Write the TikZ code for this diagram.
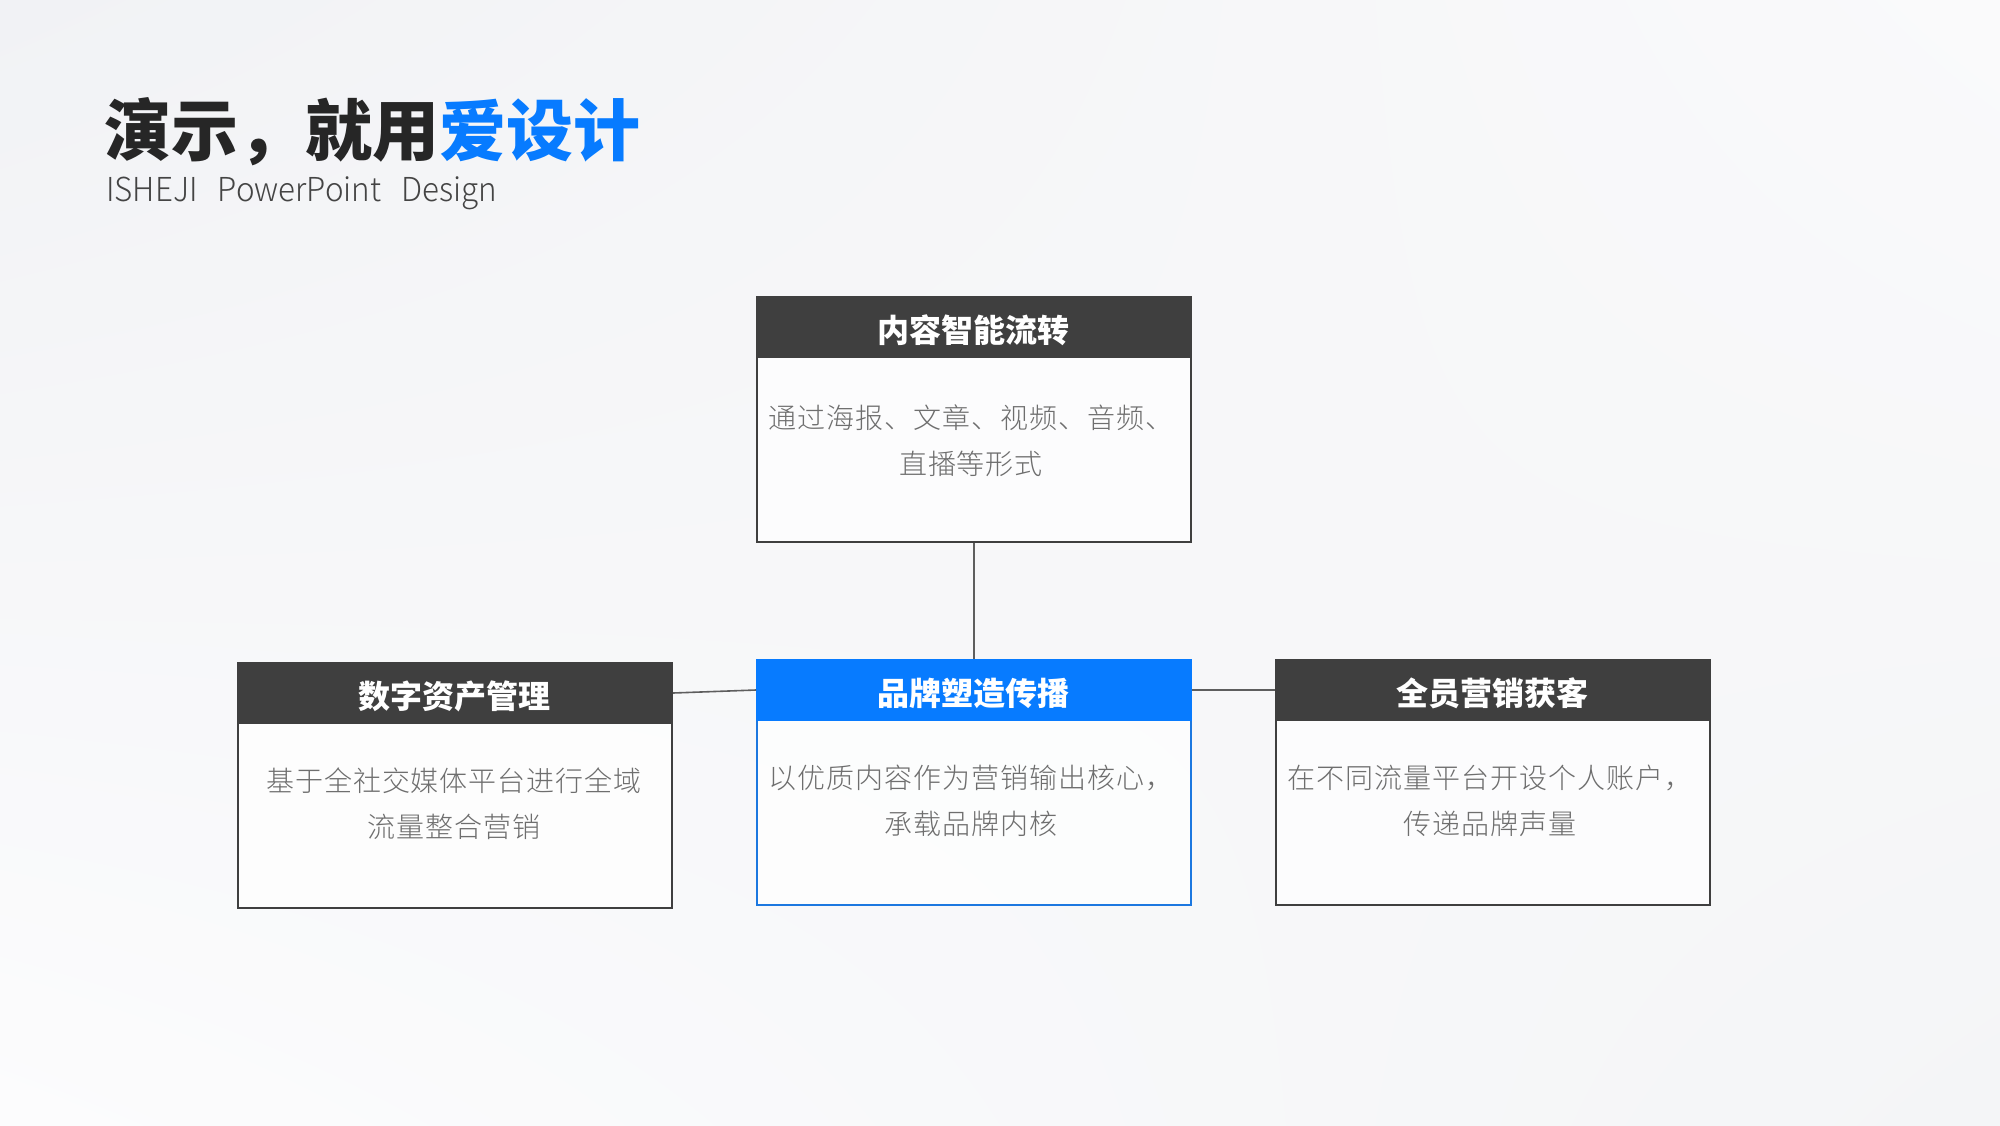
\documentclass[tikz,border=0pt]{standalone}
\usepackage{fontspec}
\newfontfamily\cjkb{Noto Sans CJK SC}
\newfontfamily\cjkl{Noto Sans CJK SC Light}[LetterSpace=3.5]
\newfontfamily\subfont{Noto Sans CJK SC Light}
\usetikzlibrary{shadings}
\definecolor{hdrgray}{HTML}{3F3F3F}
\definecolor{brand}{HTML}{077BFF}
\definecolor{brandline}{HTML}{1C78E0}
\definecolor{inkc}{HTML}{262626}
\definecolor{subc}{HTML}{444444}
\definecolor{bodyc}{HTML}{6E6E6E}
\definecolor{linec}{HTML}{5E5E5E}
\begin{document}
\begin{tikzpicture}[x=1pt,y=-1pt,
  card/.style={rectangle, anchor=north west, minimum width=434pt, minimum height=245pt,
    inner sep=0pt, fill=white, fill opacity=0.75, draw=hdrgray, draw opacity=1, line width=2pt},
  hdr/.style={rectangle, anchor=north west, minimum width=434pt, minimum height=60pt,
    inner sep=0pt, fill=hdrgray, draw=hdrgray, line width=2pt},
  htxt/.style={inner sep=0pt, text=white, font=\cjkb\bfseries\fontsize{32}{32}\selectfont},
  btxt/.style={inner sep=0pt, align=center, text=bodyc, font=\cjkl\fontsize{28}{46}\selectfont},
  conn/.style={draw=linec, line width=1.6pt}]
\useasboundingbox (0,0) rectangle (2000,1125);
\shade[upper left={rgb,255:red,241;green,242;blue,245}, upper right={rgb,255:red,250;green,250;blue,251},
       lower left={rgb,255:red,252;green,252;blue,253}, lower right={rgb,255:red,244;green,245;blue,247}]
  (0,0) rectangle (2000,1125);

% title
\node[anchor=base west, inner sep=0pt, text=inkc, font=\cjkb\bfseries\fontsize{67}{67}\selectfont]
  (title) at (104,155) {演示，就用\textcolor{brand}{爱设计}};
\node[anchor=base west, inner sep=0pt, text=subc, font=\subfont\fontsize{33}{33}\selectfont]
  (subtitle) at (106,201) {\scalebox{0.95}[1]{ISHEJI\hspace{21pt}PowerPoint\hspace{21pt}Design}};

% top card
\node[card] (c1) at (756,296) {};
\node[hdr] (h1) at (756,296) {};
\node[htxt] (ht1) at (973,330) {内容智能流转};
\node[btxt] (bt1) at (971,441) {通过海报、文章、视频、音频、\\直播等形式};

% left card
\node[card] (c3) at (237,662) {};
\node[hdr] (h3) at (237,662) {};
\node[htxt] (ht3) at (454,696) {数字资产管理};
\node[btxt] (bt3) at (454,804) {基于全社交媒体平台进行全域\\流量整合营销};

% centre card
\node[card, draw=brandline] (c2) at (756,659) {};
\node[hdr, fill=brand, draw=brand] (h2) at (756,659) {};
\node[htxt] (ht2) at (973,693) {品牌塑造传播};
\node[btxt] (bt2) at (971,801) {以优质内容作为营销输出核心，\\承载品牌内核};

% right card
\node[card] (c4) at (1275,659) {};
\node[hdr] (h4) at (1275,659) {};
\node[htxt] (ht4) at (1492,693) {全员营销获客};
\node[btxt] (bt4) at (1490,801) {在不同流量平台开设个人账户，\\传递品牌声量};

% connectors
\draw[conn] (c1.south) -- (h2.north);
\draw[conn] (h3.east) -- (h2.west);
\draw[conn] (h2.east) -- (h4.west);
\end{tikzpicture}
\end{document}
